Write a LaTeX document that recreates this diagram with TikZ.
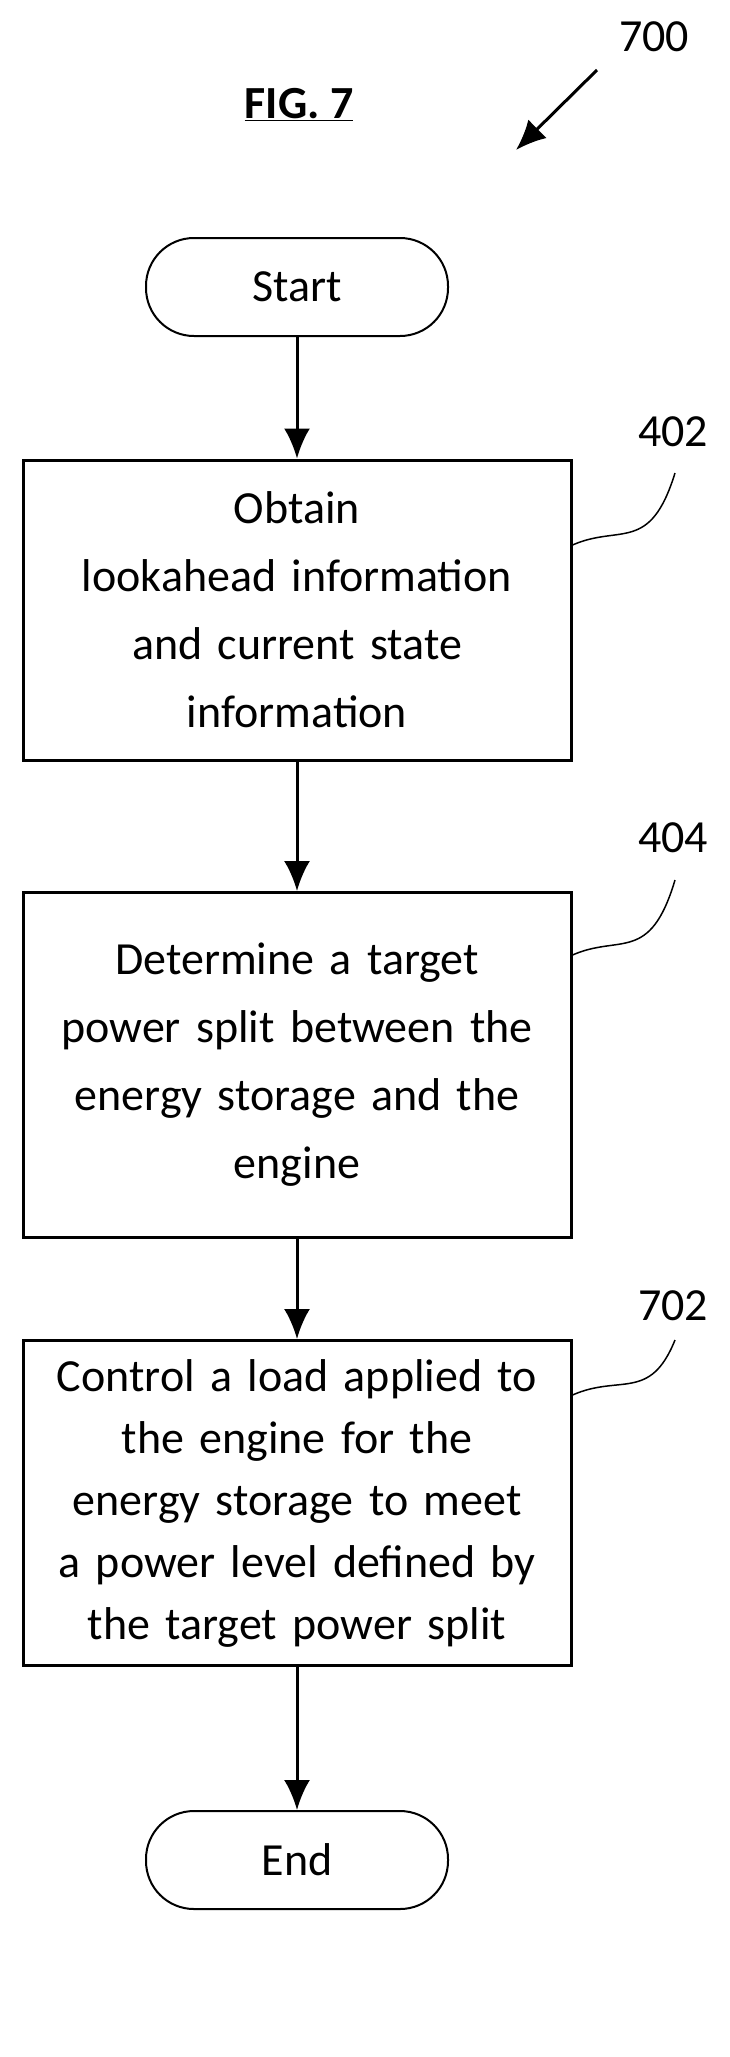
\documentclass[tikz,border=0pt]{standalone}
\usepackage{fontspec}
\setmainfont{Carlito}
\usetikzlibrary{arrows.meta}
\begin{document}
\begin{tikzpicture}[x=1pt,y=-1pt,>={Latex[length=30pt,width=26pt]},
	every node/.style={font=\fontsize{46}{68}\selectfont},
	stepbox/.style={draw,line width=3pt,minimum width=548pt,align=center,text width=530pt},
	termnode/.style={draw,line width=2pt,rounded corners=48pt,minimum width=302pt},
	flow/.style={->,line width=3pt},
	leader/.style={line width=1.5pt}]
	
	\useasboundingbox (0,0) rectangle (729,2057);
	
	\node (fig) at (299,105) {\textbf{\underline{FIG. 7}}};
	\node (num) at (654,37) {700};
	\coordinate (numend) at (516,150);
	\draw[flow] (597,70) -- (numend);
	
	\node[termnode,minimum height=98pt] (start) at (297,287) {Start};
	\node[stepbox,minimum height=300pt] (obtain) at (297,610) {Obtain\\lookahead information\\and current state\\information};
	\node[stepbox,minimum height=345pt] (determine) at (297,1065) {Determine a target\\power split between the\\energy storage and the\\engine};
	\node[stepbox,minimum height=325pt,font=\fontsize{46}{62}\selectfont] (control) at (297,1503) {Control a load applied to\\the engine for the\\energy storage to meet\\a power level defined by\\the target power split};
	\node[termnode,minimum height=98pt] (end) at (297,1860) {End};
	
	\draw[flow] (start) -- (obtain);
	\draw[flow] (obtain) -- (determine);
	\draw[flow] (determine) -- (control);
	\draw[flow] (control) -- (end);
	
	% reference numerals
	\node (n402) at (673,432) {402};
	\node (n404) at (673,838) {404};
	\node (n702) at (673,1306) {702};
	\draw[leader] (obtain.east |- 0,545) .. controls (620,524) and (650,554) .. (675,473);
	\draw[leader] (determine.east |- 0,955) .. controls (620,934) and (650,964) .. (675,880);
	\draw[leader] (control.east |- 0,1395) .. controls (620,1374) and (650,1402) .. (675,1340);
\end{tikzpicture}
\end{document}
